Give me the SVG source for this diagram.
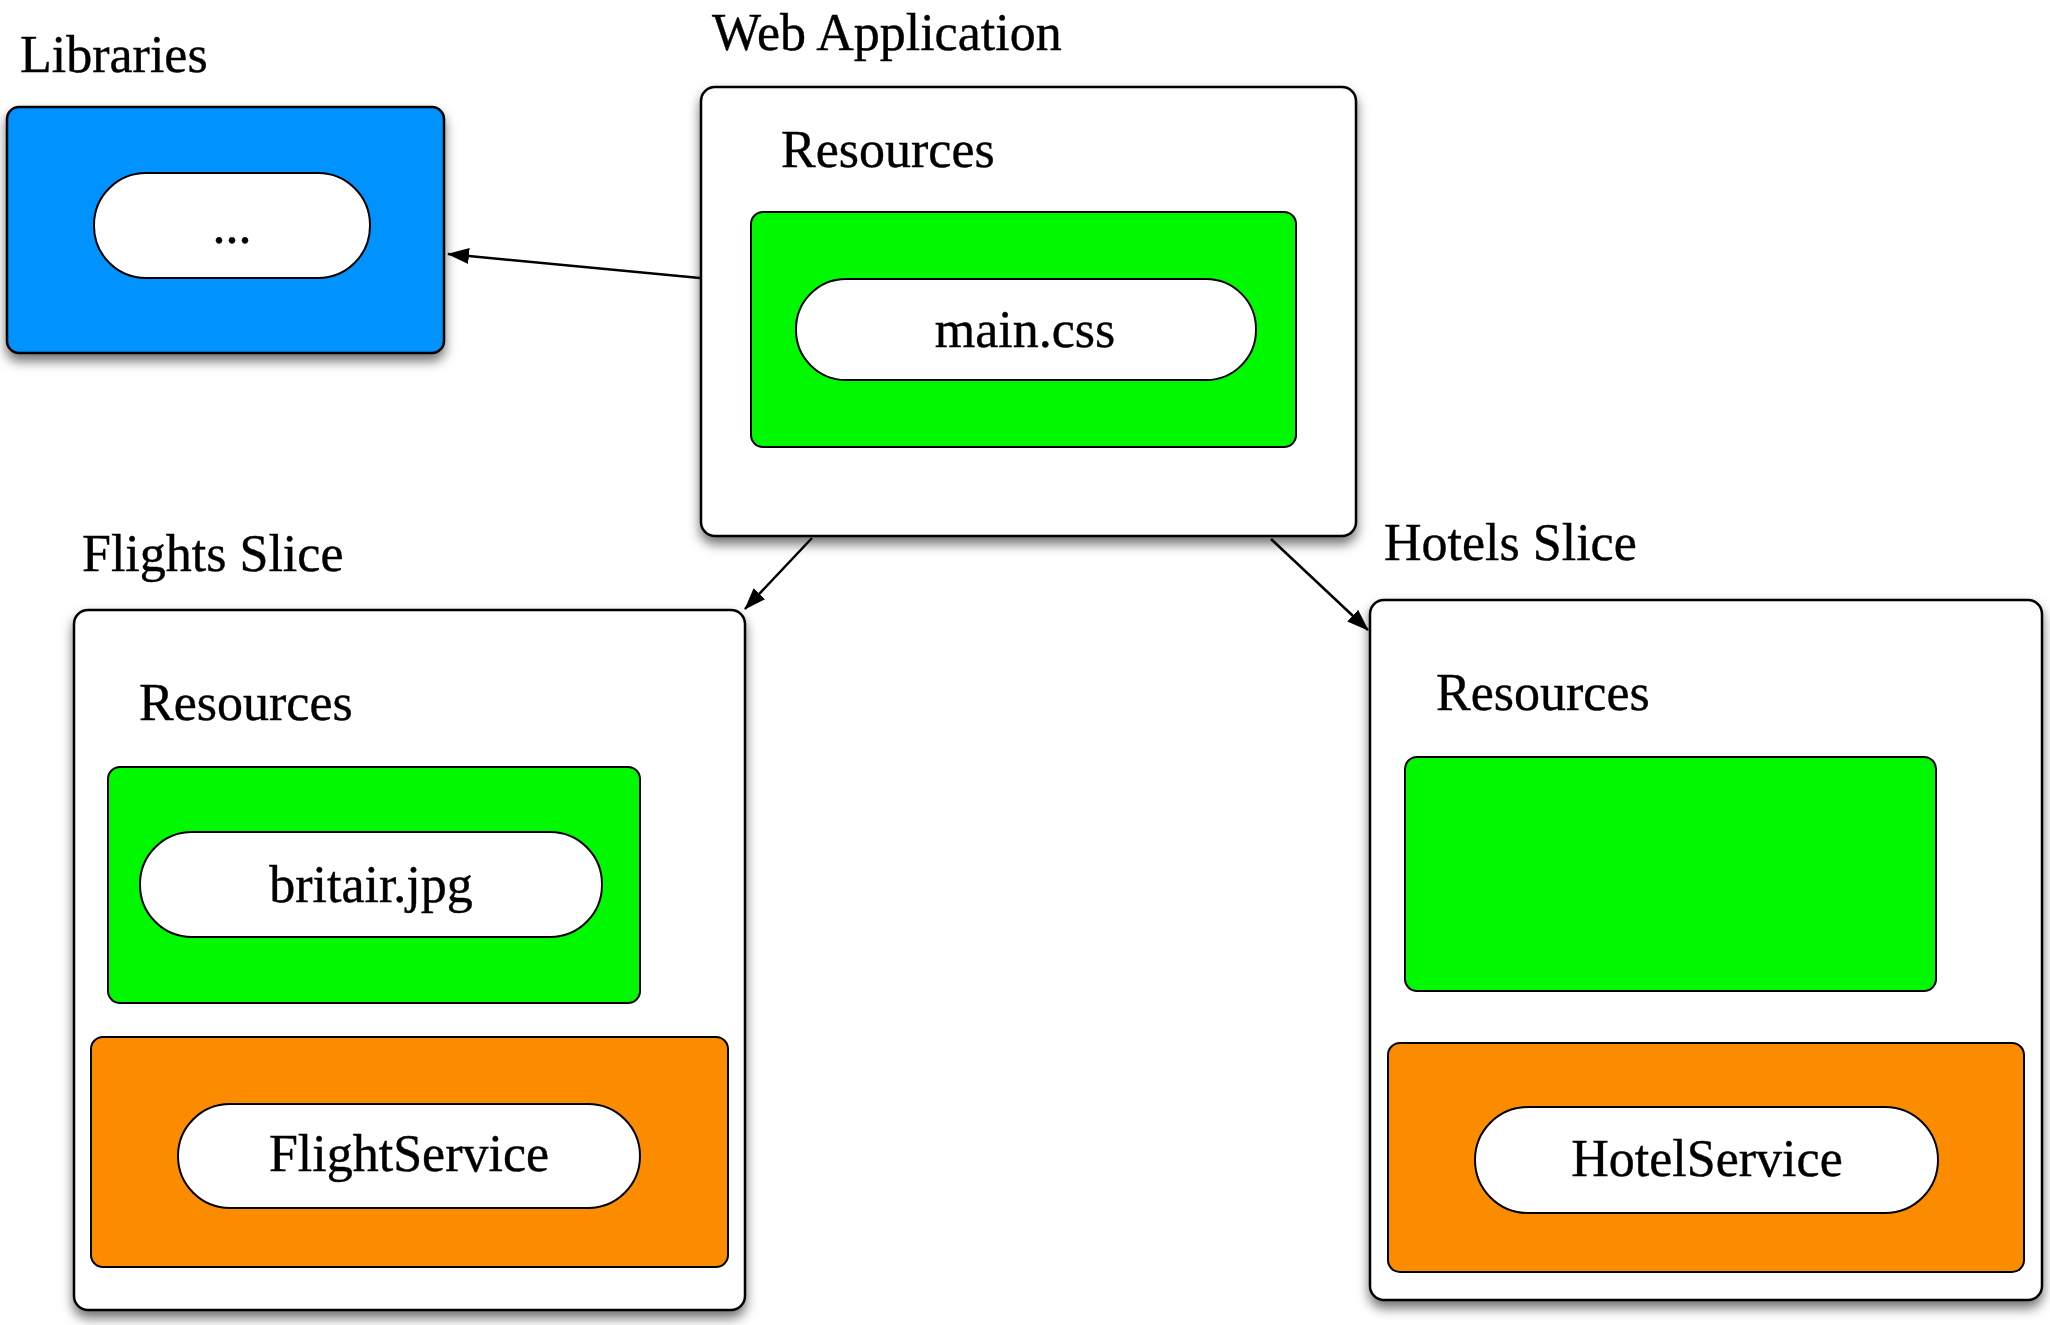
<svg xmlns="http://www.w3.org/2000/svg" width="2050" height="1325" viewBox="0 0 2050 1325">
<defs>
<filter id="sh" x="-10%" y="-10%" width="120%" height="125%">
<feDropShadow dx="0" dy="7" stdDeviation="6" flood-color="#000" flood-opacity="0.55"/>
</filter>
<marker id="arr" viewBox="0 0 22 16" refX="21" refY="8" markerWidth="22" markerHeight="16" markerUnits="userSpaceOnUse" orient="auto">
<path d="M0,0 L22,8 L0,16 Z" fill="#000"/>
</marker>
</defs>
<style>
text{font-family:"Liberation Serif","Times New Roman",serif;font-size:52px;fill:#000;stroke:#000;stroke-width:0.4}
.c{text-anchor:middle}
.outer{fill:#fff;stroke:#000;stroke-width:2.5}
.blue{fill:#0092FF;stroke:#000;stroke-width:2.5}
.green{fill:#00F800;stroke:#000;stroke-width:2}
.orange{fill:#FB8C00;stroke:#000;stroke-width:2}
.pill{fill:#fff;stroke:#000;stroke-width:2}
.edge{stroke:#000;stroke-width:2.5;fill:none;marker-end:url(#arr)}
</style>
<rect width="2050" height="1325" fill="#fff"/>

<g id="libraries">
<text x="20" y="72">Libraries</text>
<rect class="blue" x="7" y="107" width="437" height="246" rx="12" filter="url(#sh)"/>
<rect class="pill" x="94" y="173" width="276" height="105" rx="52"/>
<text class="c" x="232" y="243">...</text>
</g>

<g id="webapp">
<text x="712" y="50">Web Application</text>
<rect class="outer" x="701" y="87" width="655" height="449" rx="14" filter="url(#sh)"/>
<text x="781" y="167">Resources</text>
<rect class="green" x="751" y="212" width="545" height="235" rx="12"/>
<rect class="pill" x="796" y="279" width="460" height="101" rx="50"/>
<text class="c" x="1025" y="347">main.css</text>
</g>

<g id="flights">
<text x="82" y="571">Flights Slice</text>
<rect class="outer" x="74" y="610" width="671" height="700" rx="14" filter="url(#sh)"/>
<text x="139" y="720">Resources</text>
<rect class="green" x="108" y="767" width="532" height="236" rx="12"/>
<rect class="pill" x="140" y="832" width="462" height="105" rx="52"/>
<text class="c" x="371" y="902">britair.jpg</text>
<rect class="orange" x="91" y="1037" width="637" height="230" rx="12"/>
<rect class="pill" x="178" y="1104" width="462" height="104" rx="52"/>
<text class="c" x="409" y="1171">FlightService</text>
</g>

<g id="hotels">
<text x="1384" y="560">Hotels Slice</text>
<rect class="outer" x="1370" y="600" width="672" height="700" rx="14" filter="url(#sh)"/>
<text x="1436" y="710">Resources</text>
<rect class="green" x="1405" y="757" width="531" height="234" rx="12"/>
<rect class="orange" x="1388" y="1043" width="636" height="229" rx="12"/>
<rect class="pill" x="1475" y="1107" width="463" height="106" rx="53"/>
<text class="c" x="1707" y="1176">HotelService</text>
</g>

<g id="connectors">
<line class="edge" x1="700" y1="278" x2="448" y2="254"/>
<line class="edge" x1="812" y1="538" x2="745" y2="609"/>
<line class="edge" x1="1271" y1="539" x2="1368" y2="630"/>
</g>
</svg>
